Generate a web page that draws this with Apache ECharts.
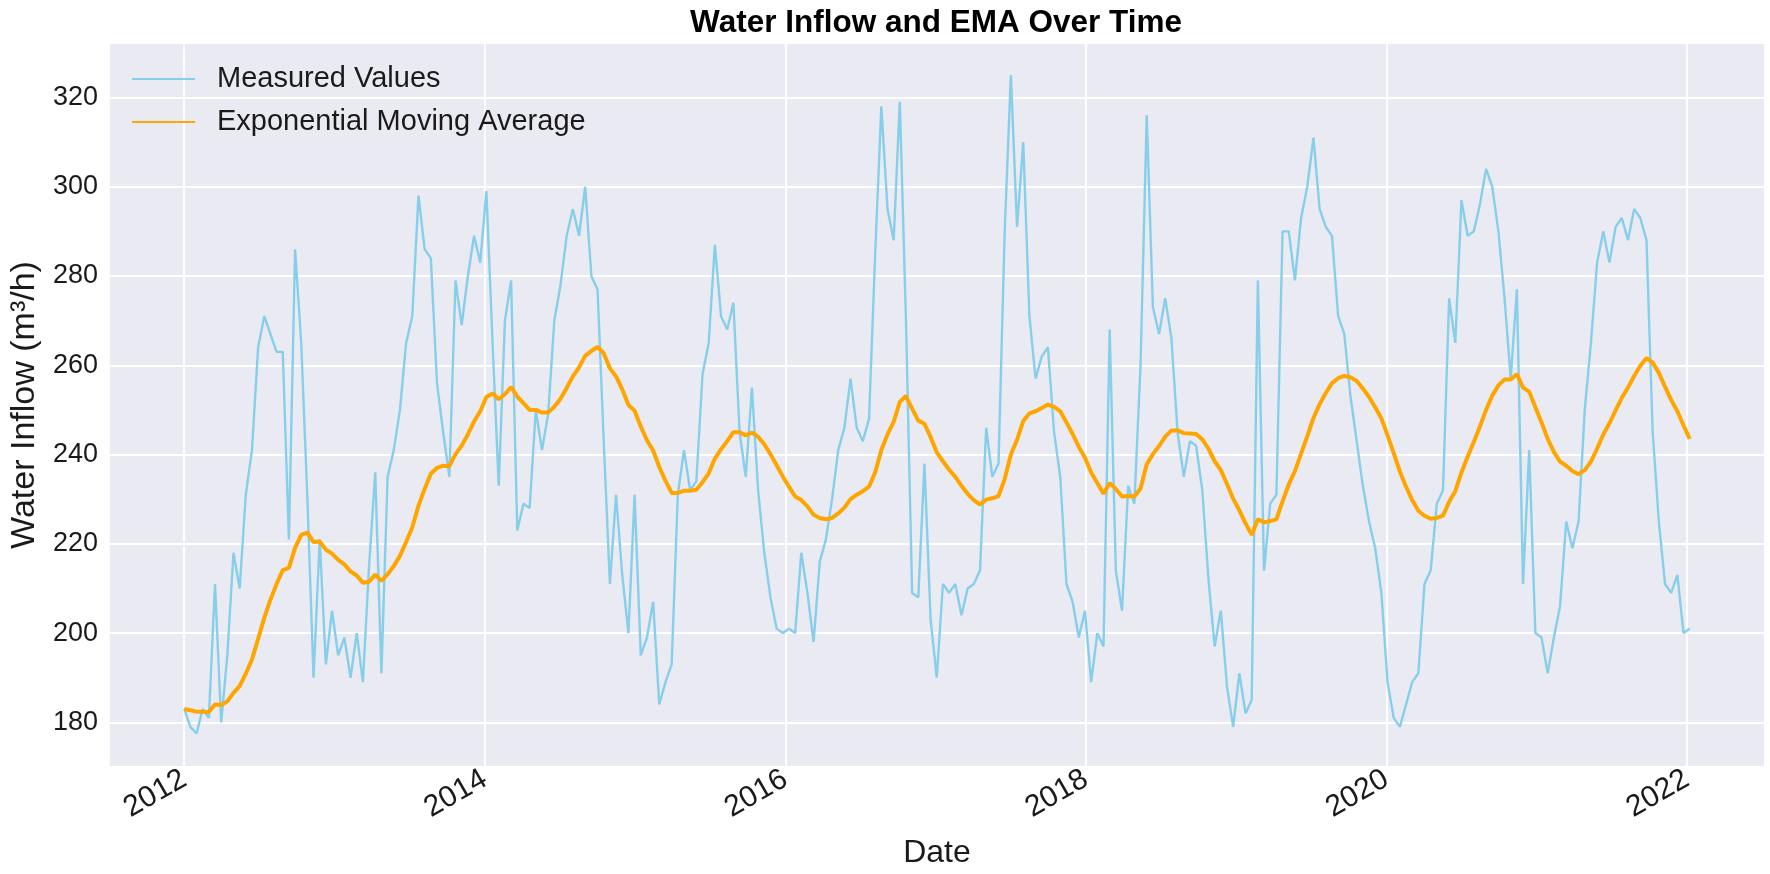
<!DOCTYPE html>
<html>
<head>
<meta charset="utf-8">
<script src="https://cdn.jsdelivr.net/npm/echarts@6/dist/echarts.min.js"></script>
<style>
html,body{margin:0;padding:0;background:#ffffff;}
#chart{width:1770px;height:874px;}
</style>
</head>
<body>
<div id="chart"></div>
<script>
// ---- data ----
const startDate = [2012, 0, 1];      // first sample
const stepDays = 15;                 // sampling interval of the series
const measuredValues = [
  183,179,177.5,183,181,211,180,195,218,210,231,241,264,271,267,263,263,221,286,265,
  230,190,221,193,205,195,199,190,200,189,215,236,191,235,241,250,265,271,298,286,
  284,256,245,235,279,269,280,289,283,299,265,233,270,279,223,229,228,250,241,249,
  270,278,289,295,289,300,280,277,243,211,231,213,200,231,195,199,207,184,189,193,
  231,241,232,234,258,265,287,271,268,274,245,235,255,232,218,208,201,200,201,200,
  218,209,198,216,221,230,241,246,257,246,243,248,285,318,295,288,319,270,209,208,
  238,203,190,211,209,211,204,210,211,214,246,235,238,290,325,291,310,271,257,262,
  264,245,235,211,207,199,205,189,200,197,268,214,205,233,229,260,316,273,267,275,
  266,245,235,243,242,232,212,197,205,188,179,191,182,185,279,214,229,231,290,290,
  279,293,300,311,295,291,289,271,267,253,243,233,225,219,209,189,181,179,184,189,
  191,211,214,229,232,275,265,297,289,290,296,304,300,290,275,257,277,211,241,200,
  199,191,199,206,225,219,225,250,265,283,290,283,291,293,288,295,293,288,245,225,
  211,209,213,200,201
];
const emaValues = [
  183.0,182.7,182.4,182.4,182.3,184.0,183.9,184.7,186.6,188.1,
  190.9,194.1,198.7,203.4,207.5,211.0,214.1,214.6,219.1,222.0,
  222.5,220.4,220.5,218.7,217.8,216.4,215.4,213.8,212.9,211.3,
  211.5,213.1,211.7,213.2,215.0,217.3,220.4,223.7,228.5,232.3,
  235.7,237.0,237.5,237.4,240.1,242.0,244.5,247.4,249.7,252.9,
  253.7,252.4,253.5,255.1,253.0,251.5,250.0,250.0,249.4,249.4,
  250.7,252.5,254.9,257.5,259.5,262.1,263.2,264.1,262.7,259.3,
  257.5,254.6,251.1,249.8,246.3,243.2,240.9,237.2,234.1,231.4,
  231.4,231.9,231.9,232.1,233.8,235.8,239.1,241.2,243.0,245.0,
  245.0,244.3,244.9,244.0,242.3,240.1,237.6,235.1,232.8,230.6,
  229.8,228.4,226.5,225.8,225.5,225.8,226.8,228.1,230.0,231.0,
  231.8,232.8,236.0,241.0,244.5,247.3,251.8,253.1,250.3,247.6,
  246.9,243.9,240.5,238.5,236.6,235.0,233.0,231.2,229.8,228.8,
  229.9,230.2,230.7,234.5,240.0,243.3,247.5,249.2,249.7,250.4,
  251.2,250.7,249.7,247.2,244.6,241.7,239.3,236.0,233.6,231.2,
  233.6,232.3,230.6,230.7,230.6,232.4,237.8,240.1,241.9,244.0,
  245.4,245.4,244.8,244.7,244.6,243.4,241.3,238.5,236.5,233.4,
  230.1,227.5,224.6,222.0,225.5,224.8,225.1,225.5,229.5,233.3,
  236.3,240.2,244.1,248.2,251.3,253.8,256.0,257.1,257.6,257.3,
  256.5,254.8,252.9,250.6,248.1,244.3,240.3,236.2,232.8,229.8,
  227.4,226.3,225.6,225.8,226.3,229.4,231.8,236.0,239.5,242.8,
  246.3,250.0,253.2,255.5,256.8,256.8,258.0,255.0,254.1,250.6,
  247.2,243.5,240.6,238.4,237.5,236.3,235.6,236.5,238.4,241.3,
  244.5,247.0,249.9,252.7,255.0,257.6,259.9,261.6,260.6,258.3,
  255.2,252.2,249.7,246.5,243.5
];
const yRange = [170, 332.2];

// ---- build series (x as decimal year) ----
const DAY = 86400000;
function decYear(t) {
  const y = new Date(t).getUTCFullYear();
  const s = Date.UTC(y, 0, 1), e = Date.UTC(y + 1, 0, 1);
  return y + (t - s) / (e - s);
}
const t0 = Date.UTC(startDate[0], startDate[1], startDate[2]);
const stamps = measuredValues.map((_, i) => t0 + i * stepDays * DAY);
const xs = stamps.map(decYear);
const measuredData = measuredValues.map((v, i) => [xs[i], v]);
const emaData = emaValues.map((v, i) => [xs[i], v]);
const span = xs[xs.length - 1] - xs[0];
const xMin = xs[0] - 0.05 * span;
const xMax = xs[xs.length - 1] + 0.05 * span;

const FONT = 'Liberation Sans, Arial, sans-serif';
const TXT = '#1a1a1a';

const chart = echarts.init(document.getElementById('chart'), null, {renderer: 'canvas'});
chart.setOption({
  animation: false,
  backgroundColor: '#ffffff',
  title: {
    text: 'Water Inflow and EMA Over Time',
    left: 936,
    textAlign: 'center',
    top: 7,
    padding: 0,
    textStyle: {fontFamily: FONT, fontSize: 31.5, fontWeight: 'bold', color: '#000'}
  },
  legend: {
    orient: 'vertical',
    left: 131,
    top: 64,
    padding: 0,
    itemWidth: 63,
    itemHeight: 1,
    itemGap: 13,
    data: ['Measured Values', 'Exponential Moving Average'],
    textStyle: {fontFamily: FONT, fontSize: 29, color: TXT, lineHeight: 30, padding: [0, 0, 0, 17]}
  },
  grid: {
    left: 107, right: 5, top: 43, bottom: 103,
    show: true, backgroundColor: '#EAEAF2', borderWidth: 0
  },
  xAxis: {
    type: 'value',
    min: xMin,
    max: xMax,
    splitNumber: 5,
    name: 'Date',
    nameLocation: 'middle',
    nameGap: 70,
    nameTextStyle: {fontFamily: FONT, fontSize: 32, color: TXT},
    axisLine: {show: false},
    axisTick: {show: false},
    splitLine: {show: true, lineStyle: {color: '#ffffff', width: 1.8}},
    axisLabel: {
      showMinLabel: false, showMaxLabel: false,
      rotate: 30,
      margin: 10,
      fontFamily: FONT, fontSize: 30, color: TXT,
      formatter: v => String(Math.round(v))
    }
  },
  yAxis: {
    type: 'value',
    min: yRange[0],
    max: yRange[1],
    splitNumber: 8,
    name: 'Water Inflow (m³/h)',
    nameLocation: 'middle',
    nameGap: 64,
    nameTextStyle: {fontFamily: FONT, fontSize: 34, color: TXT},
    axisLine: {show: false},
    axisTick: {show: false},
    splitLine: {show: true, lineStyle: {color: '#ffffff', width: 1.8}},
    axisLabel: {
      showMinLabel: false, showMaxLabel: false,
      margin: 11, fontFamily: FONT, fontSize: 27, color: TXT
    }
  },
  series: [
    {
      name: 'Measured Values', type: 'line', data: measuredData,
      symbol: 'none', showSymbol: false,
      lineStyle: {color: '#87CEEB', width: 2.4},
      itemStyle: {color: '#87CEEB'}, z: 2
    },
    {
      name: 'Exponential Moving Average', type: 'line', data: emaData,
      symbol: 'none', showSymbol: false,
      lineStyle: {color: '#FFA500', width: 4},
      itemStyle: {color: '#FFA500'}, z: 3
    }
  ]
});
</script>
</body>
</html>
